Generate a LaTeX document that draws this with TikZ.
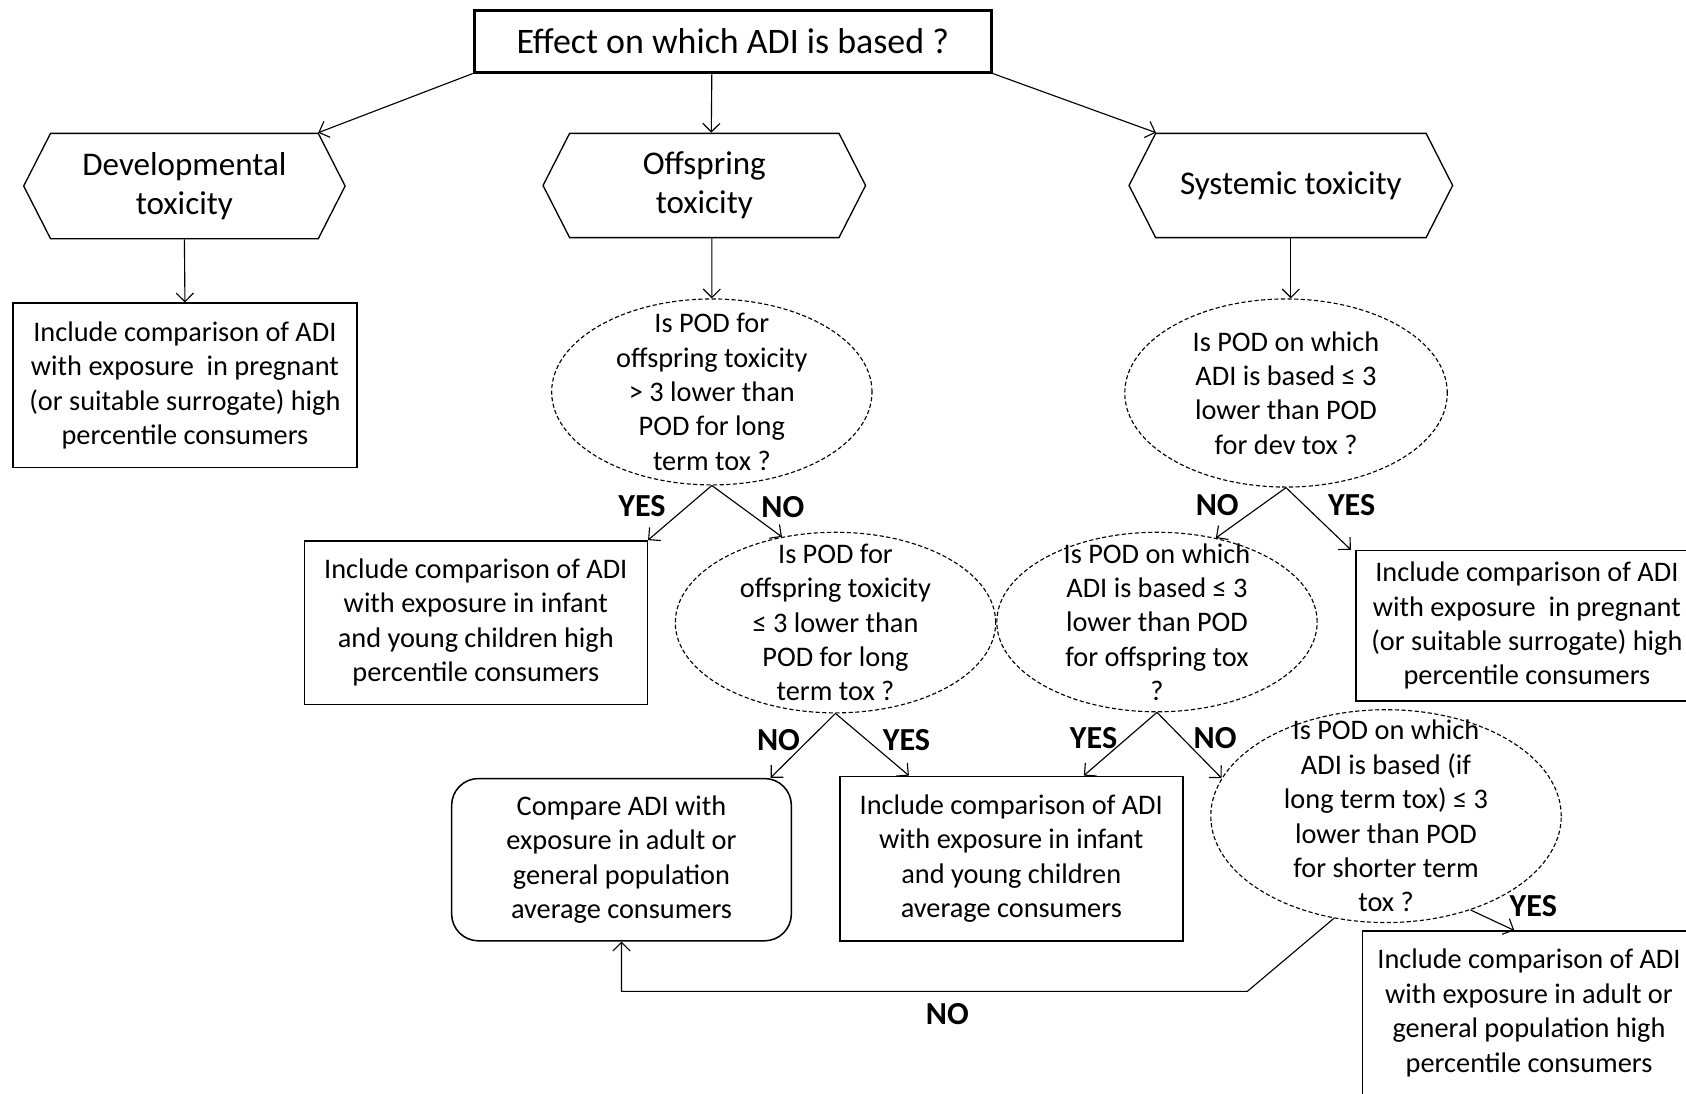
\documentclass[tikz,border=0pt]{standalone}
\usepackage{fontspec}
\setmainfont{Carlito}
\usetikzlibrary{shapes,arrows.meta}
\newcommand{\bodyfont}{\fontsize{15}{18.2}\selectfont}
\newcommand{\headfont}{\fontsize{17.5}{20.5}\selectfont}
\newcommand{\titlefont}{\fontsize{19}{23}\selectfont}
\newcommand{\answerfont}{\fontsize{17}{20}\selectfont\bfseries}
\tikzstyle{effect} = [draw, signal, signal to=east and west, signal pointer angle=126, align=center, inner sep=0pt, font=\headfont, line width=0.7pt]
\tikzstyle{action} = [draw, rectangle, align=center, inner sep=0pt, font=\bodyfont, line width=0.8pt]
\tikzstyle{decision} = [draw, ellipse, dash pattern=on 2.2pt off 1.3pt, inner sep=0pt, line width=0.6pt]
\tikzstyle{question} = [align=center, inner sep=0pt, font=\bodyfont]
\tikzstyle{answer} = [inner sep=0pt, font=\answerfont]
\tikzset{
  line/.style ={draw, line width=0.6pt, -{Straight Barb[length=1.6mm,width=3.2mm]}}
}

\begin{document}
\begin{tikzpicture}[x=0.02cm,y=-0.02cm]
	\useasboundingbox (0,0) rectangle (1568,1017);
	\clip (0,0) rectangle (1568,1017);
	% top and the three kinds of effect
	\node[action, line width=1.6pt, font=\titlefont, minimum width=9.62cm, minimum height=1.14cm] (top) at (681.5,38.5) {Effect on which ADI is based ?};
	\node[effect, minimum width=5.98cm, minimum height=1.96cm] (dev) at (171.5,173) {Developmental\\toxicity};
	\node[effect, minimum width=6cm, minimum height=1.94cm] (off) at (655,172.5) {Offspring\\toxicity};
	\node[effect, minimum width=6.02cm, minimum height=1.94cm] (sys) at (1200.5,172.5) {Systemic toxicity};
	\draw[line] (top.south west) -- ([xshift=2.49cm]dev.north);
	\draw[line] ([xshift=-0.39cm]top.south) -- ([xshift=0.13cm]off.north);
	\draw[line] (top.south east) -- ([xshift=-2.51cm]sys.north);

	% developmental
	\node[action, minimum width=6.4cm, minimum height=3.06cm] (devpreg) at (172,358.5) {Include comparison of ADI\\with exposure\ \ in pregnant\\(or suitable surrogate) high\\percentile consumers};
	\draw[line] (dev.south) -- (devpreg.north);

	% offspring
	\node[decision, minimum width=5.96cm, minimum height=3.46cm, label={[question]center:{Is POD for\\offspring toxicity\\> 3 lower than\\POD for long\\term tox ?}}] (offq1) at (662,364.5) {};
	\draw[line] ([xshift=0.14cm]off.south) -- (offq1.north);
	\node[action, minimum width=6.38cm, minimum height=3.04cm] (offhigh) at (442.5,579) {Include comparison of ADI\\with exposure in infant\\and young children high\\percentile consumers};
	\node[decision, minimum width=5.96cm, minimum height=3.36cm, label={[question]center:{Is POD for\\offspring toxicity\\≤ 3 lower than\\POD for long\\term tox ?}}] (offq2) at (777,579) {};
	\draw[line] (offq1.south) -- (offhigh.north east);
	\draw[line] (offq1.south) -- (offq2.122);
	\node[answer] (offyes1) at (597,471) {YES};
	\node[answer] (offno1) at (728,472) {NO};
	\node[action, rounded corners=0.5cm, minimum width=6.32cm, minimum height=3.02cm] (adultavg) at (578,799.5) {Compare ADI with\\exposure in adult or\\general population\\average consumers};
	\node[action, minimum width=6.38cm, minimum height=3.06cm] (infavg) at (940.5,798.5) {Include comparison of ADI\\with exposure in infant\\and young children\\average consumers};
	\draw[line] (offq2.south) -- ([xshift=-0.4cm]adultavg.north east);
	\draw[line] (offq2.south) -- ([xshift=1.3cm]infavg.north west);
	\node[answer] (offno2) at (724,688) {NO};
	\node[answer] (offyes2) at (843,688) {YES};

	% systemic
	\node[decision, minimum width=6cm, minimum height=3.5cm, label={[question]center:{Is POD on which\\ADI is based ≤ 3\\lower than POD\\for dev tox ?}}] (sysq1) at (1196,365.5) {};
	\draw[line] (sys.south) -- (sys.south |- sysq1.north);
	\node[decision, minimum width=5.96cm, minimum height=3.34cm, label={[question]center:{Is POD on which\\ADI is based ≤ 3\\lower than POD\\for offspring tox\\?}}] (sysq2) at (1076,578.5) {};
	\node[action, minimum width=6.36cm, minimum height=2.8cm] (syspreg) at (1420,582) {Include comparison of ADI\\with exposure\ \ in pregnant\\(or suitable surrogate) high\\percentile consumers};
	\draw[line] (sysq1.south) -- (sysq2.55);
	\draw[line] (sysq1.south) -- ([xshift=-0.08cm]syspreg.north west);
	\node[answer] (sysno1) at (1132,470) {NO};
	\node[answer] (sysyes1) at (1257,470) {YES};
	\node[decision, minimum width=6.52cm, minimum height=3.96cm, label={[question]center:{Is POD on which\\ADI is based (if\\long term tox) ≤ 3\\lower than POD\\for shorter term\\tox ?}}] (sysq3) at (1289,759) {};
	\draw[line] (sysq2.south) -- ([xshift=1.35cm]infavg.north);
	\draw[line] (sysq2.south) -- (sysq3.167);
	\node[answer] (sysyes2) at (1017,686) {YES};
	\node[answer] (sysno2) at (1130,686) {NO};
	\node[action, minimum width=6.2cm, minimum height=3.04cm] (adulthigh) at (1422,942) {Include comparison of ADI\\with exposure in adult or\\general population high\\percentile consumers};
	\draw[line] (sysq3.312) -- ([xshift=2.84cm]adulthigh.north west);
	\node[answer] (sysyes3) at (1426,843) {YES};
	\coordinate (kink) at (1160,922);
	\draw[line] (sysq3.243) -- (kink) -| (adultavg.south);
	\node[answer] (sysno3) at (881,943) {NO};
\end{tikzpicture}
\end{document}
